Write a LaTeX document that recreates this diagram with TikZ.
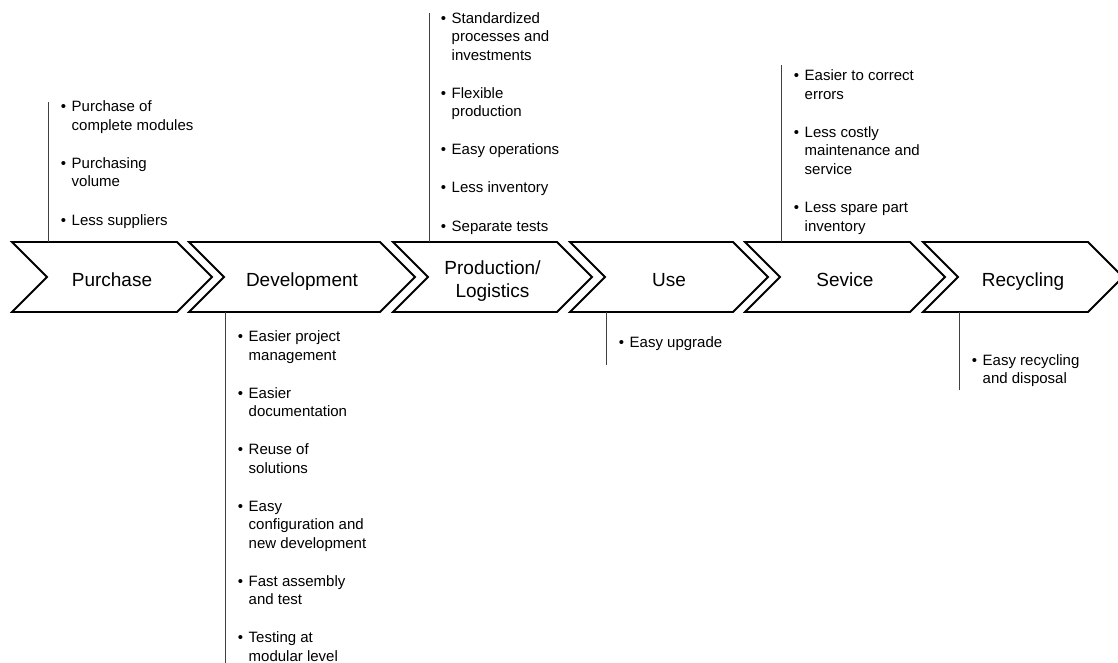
\documentclass[tikz,border=0pt]{standalone}
\usepackage{fontspec}
\setmainfont{Liberation Sans}
\newcommand\bul{\makebox[10.8bp][l]{\textbullet}}
\newcommand\ind{\hspace*{10.8bp}}
\begin{document}
\begin{tikzpicture}[x=1bp,y=-1bp,
  stage/.style={draw=black, line width=1.8bp, fill=white, line join=miter},
  stagelabel/.style={font=\fontsize{19bp}{23bp}\selectfont, align=center, inner sep=0, anchor=base},
  callout/.style={draw=black!75, line width=0.9bp},
  % lists are placed by the baseline of their last line
  notes/.style={font=\fontsize{15bp}{18.5bp}\selectfont, align=left, inner sep=0, anchor=base west}]
\useasboundingbox (0,0) rectangle (1118,663);

% chevron: name, left x, right x of the body, label, baseline of the label's last line
\newcommand\chevron[5]{%
  \draw[stage] (#2,242) -- (#3,242) -- ({#3+35},277) -- (#3,312) -- (#2,312) -- ({#2+35},277) -- cycle;
  \node[stagelabel] (#1) at ({(#2+#3+35)/2},#5) {#4};
  \coordinate (#1-top) at ({#2+36},242);
  \coordinate (#1-bot) at ({#2+36},312);
}

\chevron{pur}{12}{177}{Purchase}{286}
\chevron{dev}{189}{380}{Development}{286}
\chevron{pro}{393}{557}{Production/\\Logistics}{297}
\chevron{use}{570}{733}{Use}{286}
\chevron{ser}{745}{910}{Sevice}{286}
\chevron{rec}{923}{1088}{Recycling}{286}

% benefit lists
\node[notes] (pur-notes) at (60.7,225) {\bul Purchase of\\\ind complete modules\\[19.5bp]
  \bul Purchasing\\\ind volume\\[19.5bp]
  \bul Less suppliers};
\node[notes] (pro-notes) at (440.7,231) {\bul Standardized\\\ind processes and\\\ind investments\\[19.5bp]
  \bul Flexible\\\ind production\\[19.5bp]
  \bul Easy operations\\[19.5bp]
  \bul Less inventory\\[19.5bp]
  \bul Separate tests};
\node[notes] (ser-notes) at (793.7,231) {\bul Easier to correct\\\ind errors\\[19.5bp]
  \bul Less costly\\\ind maintenance and\\\ind service\\[19.5bp]
  \bul Less spare part\\\ind inventory};
\node[notes] (dev-notes) at (237.7,661) {\bul Easier project\\\ind management\\[19.5bp]
  \bul Easier\\\ind documentation\\[19.5bp]
  \bul Reuse of\\\ind solutions\\[19.5bp]
  \bul Easy\\\ind configuration and\\\ind new development\\[19.5bp]
  \bul Fast assembly\\\ind and test\\[19.5bp]
  \bul Testing at\\\ind modular level};
\node[notes] (use-notes) at (618.7,347) {\bul Easy upgrade};
\node[notes] (rec-notes) at (971.7,383.5) {\bul Easy recycling\\\ind and disposal};

% callout lines
\coordinate (pur-end) at (48,102);
\coordinate (pro-end) at (429,13);
\coordinate (ser-end) at (781,65);
\coordinate (dev-end) at (225,663);
\coordinate (use-end) at (606,365);
\coordinate (rec-end) at (959,390);
\draw[callout] (pur-top) -- (pur-end);
\draw[callout] (pro-top) -- (pro-end);
\draw[callout] (ser-top) -- (ser-end);
\draw[callout] (dev-bot) -- (dev-end);
\draw[callout] (use-bot) -- (use-end);
\draw[callout] (rec-bot) -- (rec-end);
\end{tikzpicture}
\end{document}
